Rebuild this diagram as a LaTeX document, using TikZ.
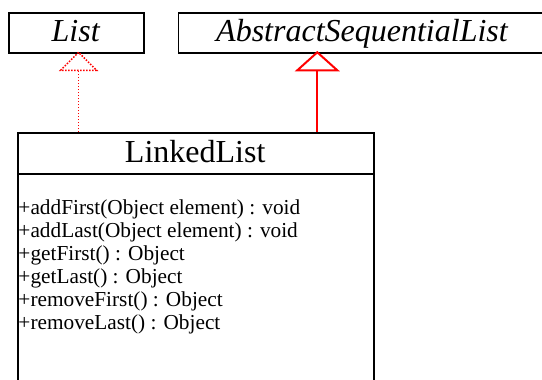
\documentclass[tikz,border=0pt]{standalone}
\usepackage{fontspec}
\setmainfont{Liberation Serif}
\begin{document}
\begin{tikzpicture}[x=1pt,y=-1pt,
  classbox/.style={draw=black, line width=1.7pt, inner sep=0pt, anchor=north west},
  titletext/.style={font=\fontsize{32}{38}\selectfont},
  interfacetext/.style={font=\fontsize{32}{38}\selectfont\itshape},
  membertext/.style={font=\fontsize{21.3}{23}\selectfont, inner sep=0pt, anchor=base west},
  realize/.style={draw=red, line width=1.5pt, dash pattern=on 1.5pt off 1.5pt},
  generalize/.style={draw=red, line width=2pt}]
\useasboundingbox (0,0) rectangle (542,380);
\clip (0,0) rectangle (542,380);

% interface and abstract superclass
\node[classbox, minimum width=135pt, minimum height=40pt] (list) at (8,12.3) {};
\node[interfacetext, anchor=base] (listname) at (75.7,41.7) {List};
\node[classbox, minimum width=368pt, minimum height=40pt] (asl) at (177.7,12.3) {};
\node[interfacetext, anchor=base] (aslname) at (362,41.7) {AbstractSequentialList};

% LinkedList class: name compartment and operations compartment
\node[classbox, minimum width=356.3pt, minimum height=41pt] (llhead) at (17,132) {};
\node[titletext, anchor=base] (llname) at (195.2,162.7) {LinkedList};
\node[classbox, minimum width=356.3pt, minimum height=240pt] (llbody) at (17,173) {};
\node[membertext] (op1) at (18.3,214.7) {+addFirst(Object element) : void};
\node[membertext] (op2) at (18.3,237.7) {+addLast(Object element) : void};
\node[membertext] (op3) at (18.3,260.7) {+getFirst() : Object};
\node[membertext] (op4) at (18.3,283.7) {+getLast() : Object};
\node[membertext] (op5) at (18.3,306.7) {+removeFirst() : Object};
\node[membertext] (op6) at (18.3,329.7) {+removeLast() : Object};

% realization: LinkedList implements List
\coordinate (tipA) at (78.6,52.3);
\coordinate (baseA) at (78.6,70.3);
\draw[realize] (tipA) -- (60.6,70.3) -- (96.6,70.3) -- cycle;
\draw[realize] (llhead.north -| baseA) -- (baseA);

% generalization: LinkedList extends AbstractSequentialList
\coordinate (tipB) at (317.3,52.3);
\coordinate (baseB) at (317.3,70.3);
\draw[generalize, line join=miter] (tipB) -- (297.3,70.3) -- (337.3,70.3) -- cycle;
\draw[generalize] (llhead.north -| baseB) -- (baseB);
\end{tikzpicture}
\end{document}
